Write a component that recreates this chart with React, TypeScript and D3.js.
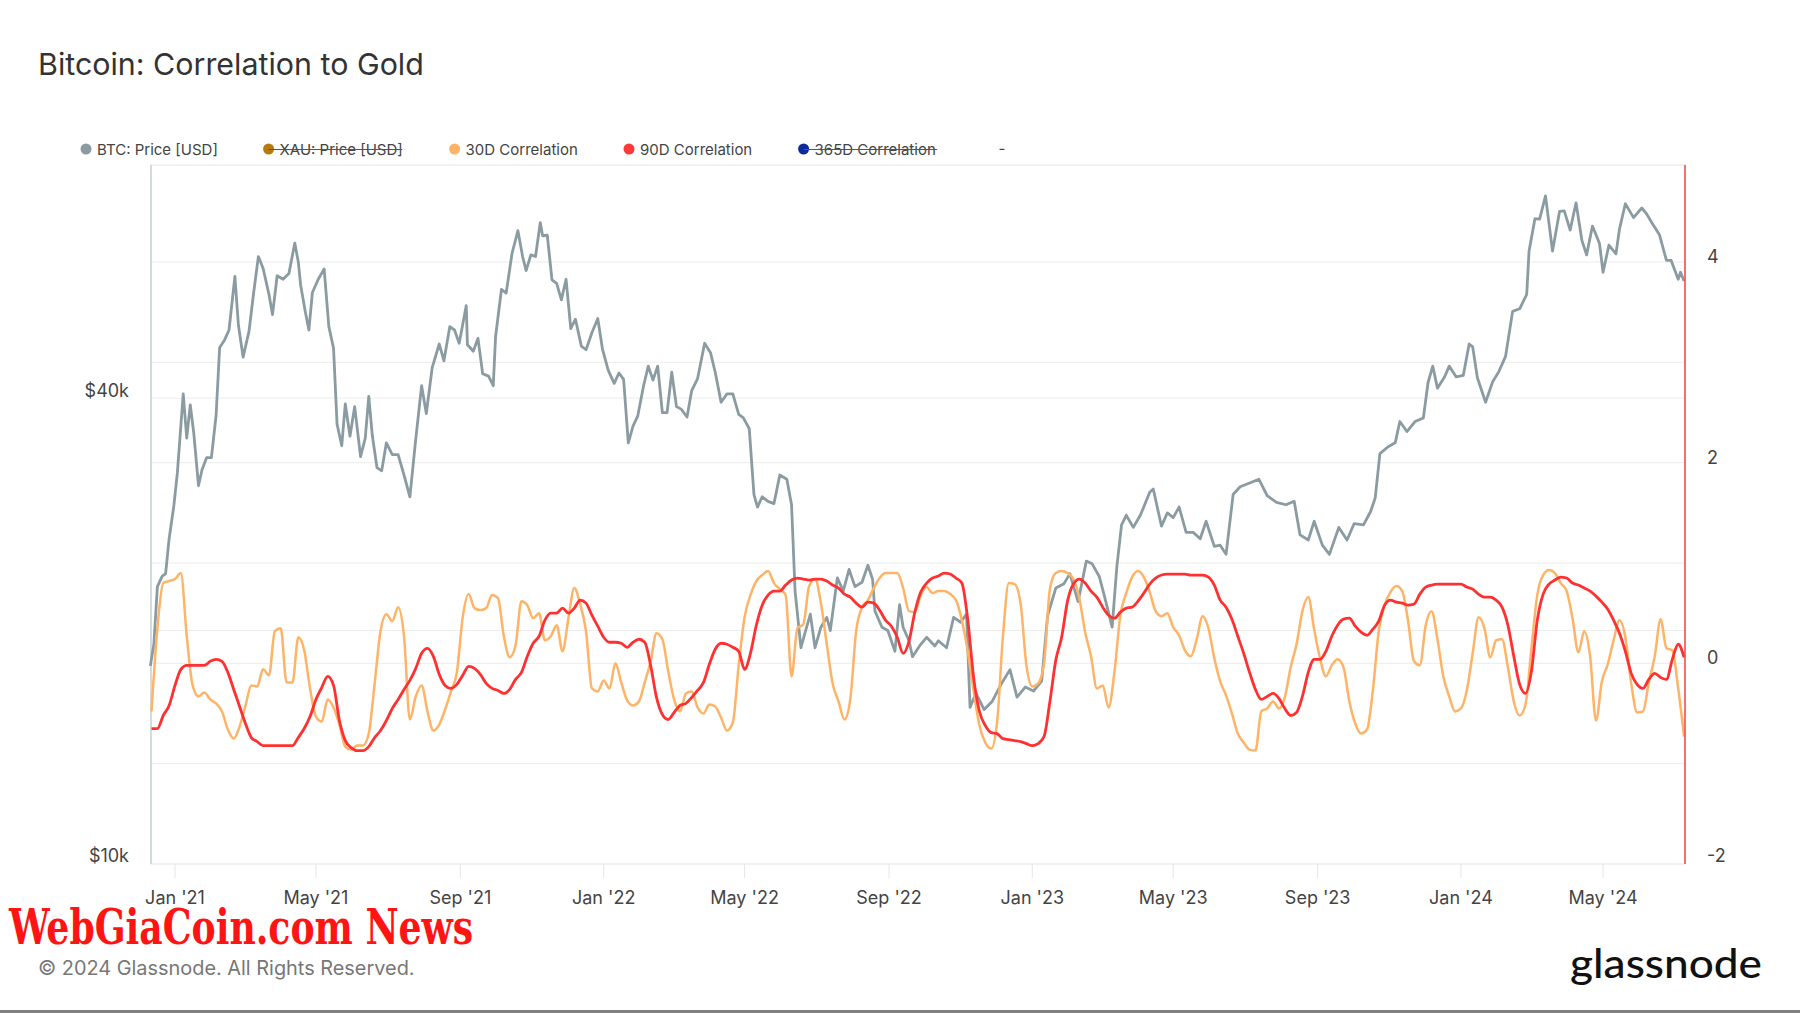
import React from "react";
import * as d3 from "d3";

// ---------------- DATA ----------------
const btcPrice: [string, number][] = [
  ["2020-12-11", 18000], ["2020-12-14", 19200], ["2020-12-17", 22800], ["2020-12-21", 23500],
  ["2020-12-24", 23700], ["2020-12-27", 26300], ["2020-12-31", 29000], ["2021-01-03", 32000],
  ["2021-01-08", 40500], ["2021-01-11", 35500], ["2021-01-14", 39200], ["2021-01-17", 36000],
  ["2021-01-21", 30800], ["2021-01-24", 32300], ["2021-01-28", 33500], ["2021-02-01", 33500],
  ["2021-02-05", 38000], ["2021-02-08", 46500], ["2021-02-12", 47500], ["2021-02-16", 49000],
  ["2021-02-21", 57500], ["2021-02-24", 49700], ["2021-02-28", 45200], ["2021-03-05", 48800],
  ["2021-03-09", 54800], ["2021-03-13", 61000], ["2021-03-17", 58900], ["2021-03-22", 54500],
  ["2021-03-25", 51300], ["2021-03-29", 57600], ["2021-04-03", 57000], ["2021-04-08", 58000],
  ["2021-04-13", 63500], ["2021-04-16", 60000], ["2021-04-18", 56000], ["2021-04-22", 51700],
  ["2021-04-25", 49000], ["2021-04-28", 54800], ["2021-05-03", 57000], ["2021-05-08", 58800],
  ["2021-05-12", 49500], ["2021-05-16", 46400], ["2021-05-19", 37000], ["2021-05-23", 34700],
  ["2021-05-26", 39300], ["2021-05-30", 35700], ["2021-06-03", 39000], ["2021-06-08", 33600],
  ["2021-06-12", 35500], ["2021-06-15", 40200], ["2021-06-18", 35800], ["2021-06-22", 32500],
  ["2021-06-26", 32200], ["2021-06-30", 35000], ["2021-07-05", 33800], ["2021-07-10", 33800],
  ["2021-07-15", 31800], ["2021-07-20", 29800], ["2021-07-25", 35400], ["2021-07-30", 41500],
  ["2021-08-03", 38200], ["2021-08-08", 43800], ["2021-08-14", 47000], ["2021-08-18", 44700],
  ["2021-08-23", 49500], ["2021-08-27", 49000], ["2021-08-31", 47100], ["2021-09-06", 52700],
  ["2021-09-07", 46900], ["2021-09-12", 46000], ["2021-09-16", 47800], ["2021-09-20", 43000],
  ["2021-09-25", 42700], ["2021-09-29", 41500], ["2021-10-01", 48100], ["2021-10-06", 55300],
  ["2021-10-10", 54700], ["2021-10-15", 61600], ["2021-10-20", 65900], ["2021-10-24", 61000],
  ["2021-10-27", 58500], ["2021-10-31", 61300], ["2021-11-04", 61000], ["2021-11-08", 67500],
  ["2021-11-10", 64900], ["2021-11-14", 65000], ["2021-11-18", 56900], ["2021-11-22", 56300],
  ["2021-11-26", 53600], ["2021-11-30", 57000], ["2021-12-04", 49200], ["2021-12-08", 50600],
  ["2021-12-13", 46700], ["2021-12-17", 46200], ["2021-12-22", 48600], ["2021-12-27", 50700],
  ["2021-12-31", 46300], ["2022-01-05", 43400], ["2022-01-10", 41800], ["2022-01-14", 43100],
  ["2022-01-18", 42300], ["2022-01-22", 35000], ["2022-01-26", 36800], ["2022-01-30", 37900],
  ["2022-02-04", 41500], ["2022-02-08", 44000], ["2022-02-12", 42200], ["2022-02-16", 44000],
  ["2022-02-20", 38300], ["2022-02-24", 38300], ["2022-02-28", 43200], ["2022-03-04", 39000],
  ["2022-03-08", 38700], ["2022-03-13", 37800], ["2022-03-17", 40900], ["2022-03-22", 42400],
  ["2022-03-28", 47100], ["2022-04-02", 45800], ["2022-04-06", 43200], ["2022-04-11", 39500],
  ["2022-04-16", 40500], ["2022-04-21", 40500], ["2022-04-26", 38100], ["2022-04-30", 37700],
  ["2022-05-05", 36500], ["2022-05-09", 30000], ["2022-05-12", 28900], ["2022-05-16", 29800],
  ["2022-05-21", 29400], ["2022-05-26", 29200], ["2022-05-31", 31800], ["2022-06-06", 31400],
  ["2022-06-10", 29100], ["2022-06-13", 22500], ["2022-06-18", 19000], ["2022-06-22", 20000],
  ["2022-06-26", 21000], ["2022-06-30", 19000], ["2022-07-05", 20200], ["2022-07-10", 20800],
  ["2022-07-13", 20000], ["2022-07-19", 23400], ["2022-07-24", 22500], ["2022-07-29", 24000],
  ["2022-08-03", 22800], ["2022-08-09", 23100], ["2022-08-14", 24300], ["2022-08-18", 23300],
  ["2022-08-20", 21200], ["2022-08-26", 20200], ["2022-08-31", 20000], ["2022-09-06", 18800],
  ["2022-09-10", 21600], ["2022-09-13", 20200], ["2022-09-18", 19400], ["2022-09-21", 18500],
  ["2022-09-27", 19100], ["2022-10-03", 19600], ["2022-10-10", 19100], ["2022-10-13", 19400],
  ["2022-10-20", 19000], ["2022-10-26", 20800], ["2022-11-01", 20500], ["2022-11-06", 21000],
  ["2022-11-09", 15900], ["2022-11-14", 16600], ["2022-11-21", 15800], ["2022-11-28", 16200],
  ["2022-12-05", 17000], ["2022-12-13", 17800], ["2022-12-19", 16400], ["2022-12-26", 16900],
  ["2023-01-02", 16700], ["2023-01-09", 17200], ["2023-01-14", 20900], ["2023-01-21", 22700],
  ["2023-01-28", 23000], ["2023-02-02", 23700], ["2023-02-09", 21800], ["2023-02-16", 24600],
  ["2023-02-21", 24400], ["2023-02-27", 23500], ["2023-03-03", 22300], ["2023-03-10", 20200],
  ["2023-03-14", 24200], ["2023-03-18", 27400], ["2023-03-22", 28200], ["2023-03-28", 27200],
  ["2023-04-03", 28200], ["2023-04-11", 30200], ["2023-04-14", 30500], ["2023-04-21", 27300],
  ["2023-04-26", 28400], ["2023-05-01", 28000], ["2023-05-06", 28900], ["2023-05-12", 26800],
  ["2023-05-18", 26800], ["2023-05-24", 26300], ["2023-05-29", 27700], ["2023-06-05", 25700],
  ["2023-06-10", 25800], ["2023-06-15", 25100], ["2023-06-21", 30000], ["2023-06-27", 30700],
  ["2023-07-04", 31000], ["2023-07-13", 31400], ["2023-07-20", 29900], ["2023-07-28", 29300],
  ["2023-08-05", 29100], ["2023-08-12", 29400], ["2023-08-17", 26600], ["2023-08-24", 26200],
  ["2023-08-29", 27700], ["2023-09-05", 25800], ["2023-09-11", 25100], ["2023-09-19", 27200],
  ["2023-09-26", 26200], ["2023-10-02", 27500], ["2023-10-10", 27400], ["2023-10-16", 28500],
  ["2023-10-20", 29700], ["2023-10-24", 33900], ["2023-10-31", 34600], ["2023-11-06", 35000],
  ["2023-11-10", 37300], ["2023-11-16", 36200], ["2023-11-23", 37300], ["2023-11-30", 37700],
  ["2023-12-04", 41900], ["2023-12-08", 44000], ["2023-12-12", 41200], ["2023-12-18", 42600],
  ["2023-12-22", 44000], ["2023-12-28", 42600], ["2024-01-03", 42800], ["2024-01-08", 47000],
  ["2024-01-11", 46600], ["2024-01-15", 42500], ["2024-01-22", 39500], ["2024-01-28", 42000],
  ["2024-02-02", 43200], ["2024-02-08", 45300], ["2024-02-14", 51800], ["2024-02-20", 52200],
  ["2024-02-26", 54500], ["2024-02-28", 62000], ["2024-03-04", 68300], ["2024-03-08", 68200],
  ["2024-03-13", 73100], ["2024-03-19", 62000], ["2024-03-25", 69800], ["2024-03-29", 69900],
  ["2024-04-03", 66000], ["2024-04-08", 71600], ["2024-04-13", 64000], ["2024-04-17", 61300],
  ["2024-04-22", 66800], ["2024-04-28", 63400], ["2024-05-01", 58200], ["2024-05-06", 63100],
  ["2024-05-12", 61500], ["2024-05-15", 66200], ["2024-05-20", 71400], ["2024-05-27", 68500],
  ["2024-06-03", 70500], ["2024-06-07", 69300], ["2024-06-12", 67300], ["2024-06-18", 65100],
  ["2024-06-24", 60300], ["2024-06-28", 60300], ["2024-07-04", 57000], ["2024-07-06", 58200],
  ["2024-07-09", 56700],
];

// correlation series sampled every 5 days starting 2020-12-12
const corrStart = "2020-12-12";
const corrStepDays = 5;

const corr30: number[] = [
  -0.48, 0.35, 0.80, 0.82, 0.84, 0.90, 0.27, -0.22, -0.33, -0.29,
  -0.36, -0.40, -0.48, -0.66, -0.75, -0.63, -0.42, -0.22, -0.23, -0.06,
  -0.12, 0.32, 0.35, -0.19, -0.19, 0.26, 0.13, -0.25, -0.53, -0.58,
  -0.36, -0.44, -0.61, -0.83, -0.86, -0.82, -0.82, -0.70, -0.20, 0.32,
  0.49, 0.42, 0.56, 0.27, -0.56, -0.33, -0.22, -0.48, -0.67, -0.61,
  -0.46, -0.28, -0.09, 0.46, 0.69, 0.55, 0.53, 0.55, 0.68, 0.65,
  0.27, 0.06, 0.18, 0.62, 0.58, 0.45, 0.50, 0.23, 0.27, 0.38,
  0.12, 0.45, 0.75, 0.59, 0.32, -0.25, -0.28, -0.17, -0.25, 0.00,
  -0.19, -0.37, -0.42, -0.38, -0.19, 0.02, 0.30, 0.24, -0.08, -0.36,
  -0.48, -0.30, -0.28, -0.44, -0.50, -0.41, -0.43, -0.54, -0.67, -0.59,
  -0.02, 0.46, 0.68, 0.82, 0.88, 0.92, 0.80, 0.74, 0.68, -0.13,
  0.35, 0.39, 0.77, 0.84, 0.60, 0.19, -0.20, -0.38, -0.56, -0.36,
  0.32, 0.56, 0.63, 0.75, 0.85, 0.90, 0.90, 0.90, 0.75, 0.52,
  0.51, 0.68, 0.76, 0.70, 0.72, 0.72, 0.69, 0.63, 0.43, 0.12,
  -0.27, -0.62, -0.79, -0.85, -0.59, 0.27, 0.80, 0.79, 0.60, -0.02,
  -0.23, -0.20, 0.00, 0.74, 0.90, 0.92, 0.90, 0.84, 0.65, 0.31,
  0.07, -0.25, -0.22, -0.44, -0.08, 0.48, 0.70, 0.86, 0.92, 0.86,
  0.71, 0.52, 0.47, 0.50, 0.36, 0.28, 0.13, 0.07, 0.24, 0.47,
  0.35, 0.05, -0.18, -0.32, -0.50, -0.70, -0.79, -0.86, -0.87, -0.48,
  -0.45, -0.38, -0.45, -0.34, -0.04, 0.19, 0.52, 0.66, 0.34, 0.05,
  -0.13, -0.02, 0.04, -0.04, -0.38, -0.60, -0.70, -0.66, -0.27, 0.32,
  0.58, 0.71, 0.77, 0.72, 0.42, 0.02, -0.02, 0.38, 0.52, 0.24,
  -0.13, -0.33, -0.48, -0.45, -0.27, 0.10, 0.46, 0.35, 0.06, 0.23,
  0.24, -0.04, -0.38, -0.52, -0.41, 0.15, 0.68, 0.88, 0.93, 0.90,
  0.80, 0.72, 0.45, 0.11, 0.32, 0.07, -0.57, -0.18, -0.01, 0.23,
  0.43, 0.26, -0.20, -0.49, -0.48, -0.19, 0.07, 0.44, 0.15, 0.13,
  -0.25, -0.73,
];

const corr90: number[] = [
  -0.65, -0.65, -0.52, -0.42, -0.22, -0.06, -0.02, -0.02, -0.02, -0.02,
  0.02, 0.04, 0.02, -0.09, -0.26, -0.43, -0.60, -0.74, -0.78, -0.82,
  -0.82, -0.82, -0.82, -0.82, -0.82, -0.74, -0.65, -0.53, -0.36, -0.24,
  -0.13, -0.22, -0.57, -0.77, -0.84, -0.87, -0.87, -0.83, -0.74, -0.67,
  -0.57, -0.45, -0.36, -0.26, -0.17, -0.05, 0.10, 0.15, 0.07, -0.11,
  -0.22, -0.25, -0.21, -0.12, -0.03, -0.05, -0.11, -0.20, -0.25, -0.27,
  -0.30, -0.26, -0.16, -0.09, 0.07, 0.20, 0.27, 0.43, 0.50, 0.50,
  0.55, 0.50, 0.55, 0.63, 0.60, 0.48, 0.37, 0.26, 0.21, 0.21,
  0.20, 0.16, 0.21, 0.24, 0.21, -0.02, -0.34, -0.51, -0.56, -0.49,
  -0.42, -0.40, -0.34, -0.27, -0.19, -0.01, 0.14, 0.20, 0.19, 0.16,
  0.12, -0.06, 0.10, 0.38, 0.58, 0.68, 0.72, 0.72, 0.78, 0.83,
  0.85, 0.84, 0.83, 0.84, 0.84, 0.82, 0.78, 0.75, 0.69, 0.66,
  0.60, 0.56, 0.61, 0.60, 0.53, 0.43, 0.37, 0.26, 0.10, 0.22,
  0.51, 0.71, 0.80, 0.85, 0.87, 0.90, 0.89, 0.85, 0.80, 0.44,
  -0.14, -0.48, -0.62, -0.69, -0.70, -0.75, -0.76, -0.77, -0.78, -0.80,
  -0.82, -0.80, -0.73, -0.38, 0.03, 0.26, 0.62, 0.79, 0.84, 0.80,
  0.72, 0.66, 0.56, 0.48, 0.45, 0.51, 0.55, 0.56, 0.62, 0.70,
  0.79, 0.85, 0.88, 0.89, 0.89, 0.89, 0.89, 0.88, 0.88, 0.88,
  0.86, 0.78, 0.63, 0.56, 0.44, 0.27, 0.10, -0.09, -0.26, -0.36,
  -0.33, -0.30, -0.35, -0.45, -0.52, -0.49, -0.33, -0.09, 0.04, 0.04,
  0.12, 0.27, 0.38, 0.44, 0.45, 0.37, 0.31, 0.28, 0.34, 0.42,
  0.58, 0.63, 0.61, 0.60, 0.58, 0.59, 0.69, 0.76, 0.78, 0.79,
  0.79, 0.79, 0.79, 0.79, 0.76, 0.74, 0.69, 0.66, 0.66, 0.63,
  0.56, 0.38, 0.07, -0.21, -0.30, -0.08, 0.43, 0.69, 0.79, 0.83,
  0.86, 0.85, 0.80, 0.78, 0.75, 0.72, 0.67, 0.61, 0.54, 0.43,
  0.30, 0.12, -0.10, -0.21, -0.25, -0.16, -0.10, -0.14, -0.16, 0.04,
  0.19, 0.06,
];

const leftTickValues = [10000, 40000];
const leftGridValues = [20000, 40000];
const rightTickValues = [-2, 0, 2, 4];
const rightGridValues = [-1, 0, 1, 2, 3, 4];

const legendItems = [
  { label: "BTC: Price [USD]", color: "#8a9ba1", hidden: false },
  { label: "XAU: Price [USD]", color: "#b97a0c", hidden: true },
  { label: "30D Correlation", color: "#ffb366", hidden: false },
  { label: "90D Correlation", color: "#ff3838", hidden: false },
  { label: "365D Correlation", color: "#0c2a9c", hidden: true },
];

// ---------------- LAYOUT ----------------
const W = 1800;
const H = 1013;
const PL = 151, PR = 1685, PT = 165, PB = 864;
const FONT = "Inter, 'Noto Sans', sans-serif";

export default function App() {
  const parse = d3.timeParse("%Y-%m-%d");
  const x = d3
    .scaleTime()
    .domain([new Date(2020, 11, 11, 13, 26), new Date(2024, 6, 9, 19, 0)])
    .range([PL, PR]);
  const yL = d3.scaleLog().domain([10000, 80000]).range([863, 165.6]);
  const yR = d3.scaleLinear().domain([-2, 4]).range([PB, 262]);

  const btc = btcPrice.map(([d, v]) => ({ d: parse(d) as Date, v }));
  const start = parse(corrStart) as Date;
  const c30 = corr30.map((v, i) => ({ d: d3.timeDay.offset(start, i * corrStepDays), v }));
  const c90 = corr90.map((v, i) => ({ d: d3.timeDay.offset(start, i * corrStepDays), v }));

  const lineL = d3
    .line<{ d: Date; v: number }>()
    .x((p) => x(p.d))
    .y((p) => yL(p.v));
  const lineR = d3
    .line<{ d: Date; v: number }>()
    .x((p) => x(p.d))
    .y((p) => yR(p.v))
    .curve(d3.curveMonotoneX);

  const xTicks = x.ticks(d3.timeMonth.every(4) as any);
  const fmt = d3.timeFormat("%b '%y");
  const fmtL = (v: number) => `$${Math.round(v / 1000)}k`;

  const legendX = [86, 268.6, 454.6, 629, 803.6];

  return (
    <div style={{ position: "absolute", left: 0, top: 0, width: W, height: H, background: "#fff" }}>
      <svg width={W} height={H} style={{ display: "block" }} fontFamily={FONT}>
        <rect x={0} y={0} width={W} height={H} fill="#fff" />
        <text x={38} y={75} fontSize={30.4} fill="#333">
          Bitcoin: Correlation to Gold
        </text>

        {/* legend */}
        {legendItems.map((it, i) => {
          const lx = legendX[i];
          const tw = it.label.length * 7.6;
          return (
            <g key={it.label}>
              <circle cx={lx} cy={149} r={5.5} fill={it.color} />
              <text x={lx + 11} y={154.5} fontSize={15} fill="#444">
                {it.label}
              </text>
              {it.hidden && (
                <line x1={lx} x2={lx + 12 + tw} y1={149.5} y2={149.5} stroke="#555" strokeWidth={1.2} />
              )}
            </g>
          );
        })}
        <text x={1002} y={154} fontSize={15} fill="#444" textAnchor="middle">
          -
        </text>

        {/* gridlines */}
        {rightGridValues.map((v) => (
          <line key={"rg" + v} x1={PL} x2={PR} y1={yR(v)} y2={yR(v)} stroke="#ececec" strokeWidth={1} />
        ))}
        {leftGridValues.map((v) => (
          <line key={"lg" + v} x1={PL} x2={PR} y1={yL(v)} y2={yL(v)} stroke="#ececec" strokeWidth={1} />
        ))}
        {/* plot frame */}
        <rect x={PL} y={PT} width={PR - PL} height={PB - PT} fill="none" stroke="#e3e3e3" strokeWidth={1} />
        <line x1={PL} x2={PL} y1={PT} y2={PB} stroke="#c9d3d7" strokeWidth={1.5} />

        {/* x ticks */}
        {xTicks.map((t) => (
          <g key={+t}>
            <line x1={x(t)} x2={x(t)} y1={PB} y2={878} stroke="#e6e6e6" strokeWidth={1} />
            <text x={x(t)} y={904} fontSize={18} fill="#444" textAnchor="middle">
              {fmt(t)}
            </text>
          </g>
        ))}

        {/* left axis labels */}
        {leftTickValues.map((v) => (
          <text key={"lt" + v} x={129} y={yL(v) - 1} fontSize={18} fill="#444" textAnchor="end">
            {fmtL(v)}
          </text>
        ))}
        {/* right axis labels */}
        {rightTickValues.map((v) => (
          <text key={"rt" + v} x={1707} y={yR(v) + (v === -2 ? -2 : 1)} fontSize={18} fill="#444" textAnchor="start">
            {v < 0 ? "-" + Math.abs(v) : String(v)}
          </text>
        ))}

        {/* series */}
        <path d={lineL(btc) || ""} fill="none" stroke="#8a9ba1" strokeWidth={2.8} strokeLinejoin="round" />
        <path d={lineR(c30) || ""} fill="none" stroke="#ffb366" strokeWidth={2.5} strokeLinejoin="round" />
        <path d={lineR(c90) || ""} fill="none" stroke="#ff3030" strokeWidth={2.8} strokeLinejoin="round" />

        {/* right edge marker */}
        <line x1={PR} x2={PR} y1={PT} y2={PB} stroke="#ff4040" strokeWidth={1.5} />

        {/* watermark */}
        <text
          x={9}
          y={944}
          fontSize={48}
          fontWeight="bold"
          fill="#ff1414"
          fontFamily="'DejaVu Serif Condensed', 'DejaVu Serif', serif"
          fontStretch="condensed"
          textLength={464}
          lengthAdjust="spacingAndGlyphs"
        >
          WebGiaCoin.com News
        </text>

        {/* footer */}
        <text x={38} y={975} fontSize={19.9} fill="#777">
          © 2024 Glassnode. All Rights Reserved.
        </text>
        <text
          x={1570}
          y={978}
          fontSize={41}
          fontWeight={500}
          fill="#111"
          fontFamily="Lato, Inter, sans-serif"
          textLength={192}
          lengthAdjust="spacingAndGlyphs"
        >
          glassnode
        </text>
        <rect x={0} y={1010} width={W} height={3} fill="#808080" />
      </svg>
    </div>
  );
}
